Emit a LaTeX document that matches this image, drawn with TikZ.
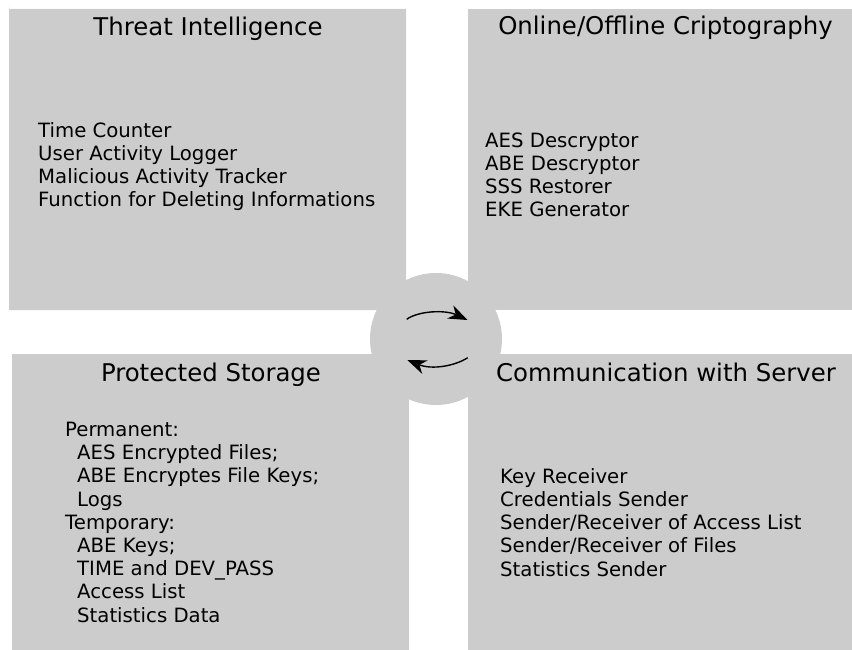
\documentclass[tikz,border=0pt]{standalone}
\usepackage{fontspec}
\setmainfont{DejaVu Sans}
\usetikzlibrary{arrows.meta}
\definecolor{panelgray}{RGB}{204,204,204}
\begin{document}
\begin{tikzpicture}[x=1pt,y=-1pt,
  panel/.style={fill=panelgray},
  title/.style={anchor=base,inner sep=0pt,font=\fontsize{24.4}{29}\selectfont},
  % multi-line blocks are placed by the baseline of their last line
  items/.style={anchor=base west,inner sep=0pt,align=left,
    font=\fontsize{19.7}{23.2}\selectfont},
  cycle arrow/.style={line width=1.4pt,
    -{Stealth[length=19pt,width=14.5pt,inset=6pt]}}
]
\useasboundingbox (0,0) rectangle (852,650);

% four panels
\fill[panel] (9,9) -- (406,9) -- (406,310) -- (9,310)
  [rounded corners=4pt] -- (9,9) [sharp corners] -- cycle;
\fill[panel] (468,9) rectangle (852,310);
\fill[panel] (12,354) rectangle (409,650);
\fill[panel] (468,354) rectangle (852,650);

% central hub with the two cycle arrows
\node[circle,fill=panelgray,minimum size=132pt,inner sep=0pt] (hub) at (436,339) {};
\coordinate (topstart) at (406.7,319.3);
\coordinate (topend) at (467.5,320);
\coordinate (botstart) at (467.7,357.7);
\coordinate (botend) at (407.3,360);
\draw[cycle arrow] (topstart) .. controls (418,311) and (445,309.5) .. (topend);
\draw[cycle arrow] (botstart) .. controls (455,366) and (432,370) .. (botend);

% panel titles
\node[title] (ti) at (208,36) {Threat Intelligence};
\node[title] (oc) at (665.5,35) {Online/Offline Criptography};
\node[title] (ps) at (211,381) {Protected Storage};
\node[title] (cs) at (666,381) {Communication with Server};

% panel contents
\node[items] (tiitems) at (38,206.6) {Time Counter\\User Activity Logger\\Malicious Activity Tracker\\Function for Deleting Informations};
\node[items] (ocitems) at (485,216.6) {AES Descryptor\\ABE Descryptor\\SSS Restorer\\EKE Generator};
\node[items] (psitems) at (65,622) {Permanent:\\
  \hspace*{12pt}AES Encrypted Files;\\
  \hspace*{12pt}ABE Encryptes File Keys;\\
  \hspace*{12pt}Logs\\
  Temporary:\\
  \hspace*{12pt}ABE Keys;\\
  \hspace*{12pt}TIME and DEV\_PASS\\
  \hspace*{12pt}Access List\\
  \hspace*{12pt}Statistics Data};
\node[items] (csitems) at (500,576) {Key Receiver\\Credentials Sender\\Sender/Receiver of Access List\\Sender/Receiver of Files\\Statistics Sender};
\end{tikzpicture}
\end{document}
